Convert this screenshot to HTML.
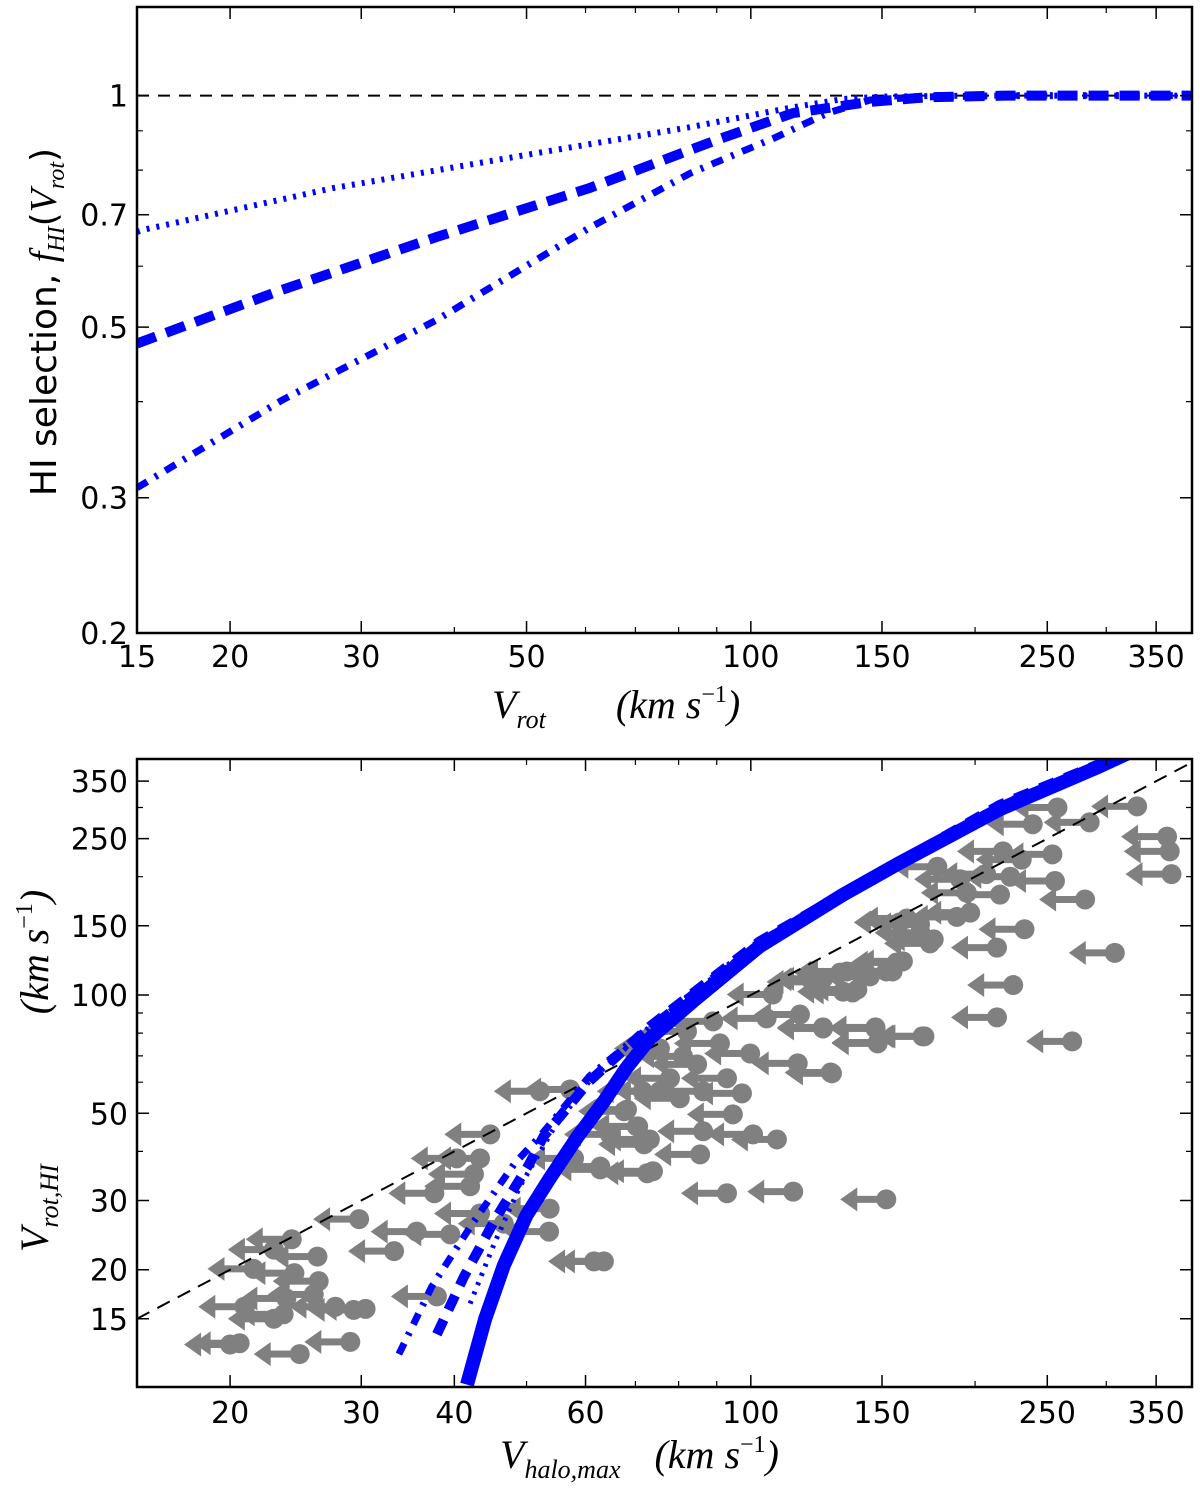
<!DOCTYPE html>
<html><head><meta charset="utf-8"><title>HI selection</title>
<style>
html,body{margin:0;padding:0;background:#fff;}
svg{display:block;}
text{font-family:"DejaVu Sans","Liberation Sans",sans-serif;}
.m{font-family:"Liberation Serif","DejaVu Serif",serif;font-style:italic;}
</style></head>
<body>
<svg id="fig" width="1200" height="1490" viewBox="0 0 1200 1490" xmlns="http://www.w3.org/2000/svg">
<defs>
<clipPath id="clipTop"><rect x="137" y="7" width="1055" height="626"/></clipPath>
<clipPath id="clipBot"><rect x="137" y="759" width="1055" height="628"/></clipPath>
</defs>
<g id="top"></g>
<g id="bot"></g>

<text transform="translate(56,322) rotate(-90)" text-anchor="middle" font-size="36">HI selection, <tspan class="m" font-size="38">f</tspan><tspan class="m" font-size="24" dy="8">HI</tspan><tspan dy="-8">(</tspan><tspan class="m" font-size="38">V</tspan><tspan class="m" font-size="24" dy="8">rot</tspan><tspan dy="-8">)</tspan></text>
<text x="492" y="718" font-size="40" class="m">V<tspan font-size="26" dy="10">rot</tspan><tspan dy="-10" dx="70">(km s</tspan><tspan font-size="24" dy="-16" font-style="normal">−1</tspan><tspan dy="16">)</tspan></text>
<text transform="translate(48,1252) rotate(-90)" font-size="40" class="m">V<tspan font-size="26" dy="10">rot,HI</tspan><tspan dy="-10" dx="150">(km s</tspan><tspan font-size="24" dy="-16" font-style="normal">−1</tspan><tspan dy="16">)</tspan></text>
<text x="500" y="1468" font-size="40" class="m">V<tspan font-size="26" dy="10">halo,max</tspan><tspan dy="-10" dx="34">(km s</tspan><tspan font-size="24" dy="-16" font-style="normal">−1</tspan><tspan dy="16">)</tspan></text>
</svg>
<script>
// ---------- top panel data ----------
const topDottedX = [15, 15.3, 27.5, 51.7, 83, 114, 133, 150, 200, 400];
const topDottedY = [0.665, 0.669, 0.758, 0.842, 0.91, 0.966, 0.99, 0.997, 1.0, 1.0];
const topDashedX = [15, 23.5, 37.9, 60.7, 90.1, 113.9, 144, 172, 220, 400];
const topDashedY = [0.476, 0.559, 0.655, 0.758, 0.876, 0.949, 0.981, 0.995, 1.0, 1.0];
const topDashDotX = [15, 23.5, 37.9, 60.7, 83, 107.6, 126.8, 144.6, 172, 230, 400];
const topDashDotY = [0.309, 0.402, 0.511, 0.673, 0.793, 0.881, 0.949, 0.987, 0.996, 1.0, 1.0];
const topXTicksMajor = [15, 20, 30, 50, 100, 150, 250, 350];
const topXTicksMinor = [40, 60, 70, 80, 90, 200, 300];
const topYTicksMajor = [0.2, 0.3, 0.5, 0.7, 1];
const topYTicksMinor = [0.4, 0.6, 0.8, 0.9];

// ---------- bottom panel data ----------
const botXTicksMajor = [20, 30, 40, 60, 100, 150, 250, 350];
const botXTicksMinor = [50, 70, 80, 90, 200, 300];
const botYTicksMajor = [15, 20, 30, 50, 100, 150, 250, 350];
const botYTicksMinor = [40, 60, 70, 80, 90, 200, 300];
const oneToOne = [15, 400];
const solidX = [41.6, 44.0, 46.6, 50.0, 53.7, 58.5, 63.5, 68.0, 73.2, 83.6, 102.8, 133, 158.5, 216, 294, 400];
const solidY = [10.2, 15.0, 20.5, 27.5, 34.1, 43.5, 53.6, 65.0, 77.5, 96.3, 133, 180, 217, 297, 382, 500];
const dashDotX = [33.7, 37.3, 42.3, 48.2, 52.1, 60.7, 73.2, 102.8, 216, 323];
const dashDotY = [12.2, 18.1, 26.2, 37.3, 43.7, 62.1, 83.2, 137, 305, 417];
const dashedX = [37.9, 41.2, 45.4, 50.4, 52.7, 60.7, 73.2, 102.8, 216, 323];
const dashedY = [13.7, 19.2, 26.9, 37.1, 43.7, 60.3, 83.2, 137, 305, 417];
const dottedX = [42.0, 45.2, 49.0, 54.4, 60.7, 73.2, 102.8, 216, 323];
const dottedY = [16.4, 23.2, 32.6, 45.8, 60.3, 83.2, 137, 305, 417];
const vHalo = [29.8,24.2,22.9,26.2,24.4,21.5,26.3,25.9,23.8,20.9,23.6,22.9,30.4,29.3,27.7,20.6,20.0,29.0,24.8,33.2,35.6,39.5,37.9,44.7,43.3,40.3,42.5,42.0,37.6,43.3,46.6,53.7,53.6,63.5,61.6,52.1,57.2,67.6,70.3,71.9,62.8,72.6,57.9,64.7,
171,147,148,128.5,115.6,125,108.4,100.7,92.9,114,152,85.5,73.9,62.8,94.6,97.3,92.9,99.8,84.7,81.1,86.3,73.2,70.6,68.2,139,134.6,155,160,174,168.7,162,107,116.4,105,89.0,82.1,75.5,90.9,77.9,75.5,80.3,86.3,71.6,125,121,133,
330,285,258,239,362,365,367,254,231,218,223,256,216,281,178,191,207,195,197,189,233,214,308,225,214,270,170,147,148,128,176,169,158.5,157,152,144.5,137,131.8,124,125];
const vRot = [26.9,23.9,22.5,21.6,19.6,20.1,18.7,17.3,16.9,16.1,15.4,15.0,15.9,15.8,16.1,13.0,12.9,13.1,12.2,22.3,25.0,24.6,17.1,44.2,38.4,38.4,35.0,32.6,31.3,27.8,26.2,28.6,25.0,21.0,21.0,56.9,57.5,50.6,46.3,41.7,36.6,35.2,38.4,44.2,
78.5,82.2,75.3,63.2,67.0,82.2,42.9,44.2,31.3,31.6,30.2,39.3,35.6,36.0,49.7,56.2,61.4,71.0,66.6,69.8,45.0,42.9,46.3,51.1,103.3,114.8,114.8,121.8,135.3,151.3,156.6,100.3,89.2,87.2,85.7,80.8,73.1,75.3,61.4,56.9,54.6,56.9,56.9,110,108,102,
302,275,300,272,253,232,203,228,221,232,200,195,180,175,212,197,203,182,162,158,147,132,128,106,87.7,76.2,78.5,82.7,75.7,63.5,138.5,144,153,121,114.8,111.5,101.5,114,109.6,82.7];

// ---------- axis functions ----------
const L = Math.log10;
const X0 = 137, X1 = 1192, XPD = 745;
function xs(v){ return X0 + XPD * L(v / 15); }
function yt(v){ return 95.6 - 769 * L(v); }
function yb(v){ return 1318.8 - 393 * L(v / 15); }
const NS = 'http://www.w3.org/2000/svg';
function mk(tag, attrs, parent){
  const e = document.createElementNS(NS, tag);
  for (const k in attrs) e.setAttribute(k, attrs[k]);
  parent.appendChild(e); return e;
}
function pathD(xa, ya, fx, fy){
  return xa.map((v,i)=>(i?'L':'M')+fx(v).toFixed(1)+','+fy(ya[i]).toFixed(1)).join(' ');
}

function axesFrame(g, top, bottom, name){
  const r = mk('rect', {x:X0, y:top, width:X1-X0, height:bottom-top, fill:'none', stroke:'#000', 'stroke-width':2.5}, g);
  
  
}
function xTicks(g, major, minor, top, bottom, labelY, name){
  major.forEach(v=>{
    const x = xs(v);
    const t = mk('path', {d:`M${x},${bottom}v-12M${x},${top}v12`, stroke:'#000','stroke-width':1.5}, g);
    
    
    const lb = mk('text', {x:x, y:labelY, 'text-anchor':'middle', 'font-size':30}, g);
    lb.textContent = v;
    
    
  });
  minor.forEach(v=>{
    const x = xs(v);
    const t = mk('path', {d:`M${x},${bottom}v-6M${x},${top}v6`, stroke:'#000','stroke-width':1.2}, g);
    
    
  });
}
function yTicks(g, major, minor, fy, name){
  major.forEach(v=>{
    const y = fy(v);
    const t = mk('path', {d:`M${X0},${y}h12M${X1},${y}h-12`, stroke:'#000','stroke-width':1.5}, g);
    
    
    const lb = mk('text', {x:128, y:y+11, 'text-anchor':'end', 'font-size':30}, g);
    lb.textContent = v;
    
    
  });
  minor.forEach(v=>{
    const y = fy(v);
    const t = mk('path', {d:`M${X0},${y}h6M${X1},${y}h-6`, stroke:'#000','stroke-width':1.2}, g);
    
    
  });
}

// ---------- top panel ----------
const gt = document.getElementById('top');
const ct = mk('g', {'clip-path':'url(#clipTop)'}, gt);
const ref1 = mk('path', {d:`M${X0},${yt(1)}H${X1}`, stroke:'#000','stroke-width':2,'stroke-dasharray':'12 9',fill:'none'}, ct);


const td = mk('path', {d:pathD(topDottedX, topDottedY, xs, yt), stroke:'#0000ff','stroke-width':6,'stroke-dasharray':'3 7',fill:'none'}, ct);


const tdd = mk('path', {d:pathD(topDashedX, topDashedY, xs, yt), stroke:'#0000ff','stroke-width':10,'stroke-dasharray':'20 11',fill:'none'}, ct);


const tdc = mk('path', {d:pathD(topDashDotX, topDashDotY, xs, yt), stroke:'#0000ff','stroke-width':7,'stroke-dasharray':'12 9 3 9',fill:'none'}, ct);


axesFrame(gt, 7, 633, 'top');
xTicks(gt, topXTicksMajor, topXTicksMinor, 7, 633, 667, 'top');
yTicks(gt, topYTicksMajor, topYTicksMinor, yt, 'top');

// ---------- bottom panel ----------
const gb = document.getElementById('bot');
const cb = mk('g', {'clip-path':'url(#clipBot)'}, gb);
for (let i = 0; i < vHalo.length; i++){
  const x = xs(vHalo[i]), y = yb(vRot[i]);
  const m = mk('g', {fill:'#808080'}, cb);
  
  
  mk('rect', {x:x-32, y:y-3.5, width:32, height:7}, m);
  mk('path', {d:`M${x-46},${y}l17,-12v24z`}, m);
  mk('circle', {cx:x, cy:y, r:10}, m);
}
const ref2 = mk('path', {d:`M${xs(oneToOne[0])},${yb(oneToOne[0])}L${xs(oneToOne[1])},${yb(oneToOne[1])}`, stroke:'#000','stroke-width':2,'stroke-dasharray':'14 9',fill:'none'}, cb);


const bdc = mk('path', {d:pathD(dashDotX, dashDotY, xs, yb), stroke:'#0000ff','stroke-width':7,'stroke-dasharray':'12 9 3 9',fill:'none'}, cb);


const bdd = mk('path', {d:pathD(dashedX, dashedY, xs, yb), stroke:'#0000ff','stroke-width':10,'stroke-dasharray':'16 11',fill:'none'}, cb);


const bdt = mk('path', {d:pathD(dottedX, dottedY, xs, yb), stroke:'#0000ff','stroke-width':5,'stroke-dasharray':'3 7',fill:'none'}, cb);


const bs = mk('path', {d:pathD(solidX, solidY, xs, yb), stroke:'#0000ff','stroke-width':14,fill:'none','stroke-linejoin':'round'}, cb);


axesFrame(gb, 759, 1387, 'bottom');
xTicks(gb, botXTicksMajor, botXTicksMinor, 759, 1387, 1423, 'bottom');
yTicks(gb, botYTicksMajor, botYTicksMinor, yb, 'bottom');
</script>
</body></html>
